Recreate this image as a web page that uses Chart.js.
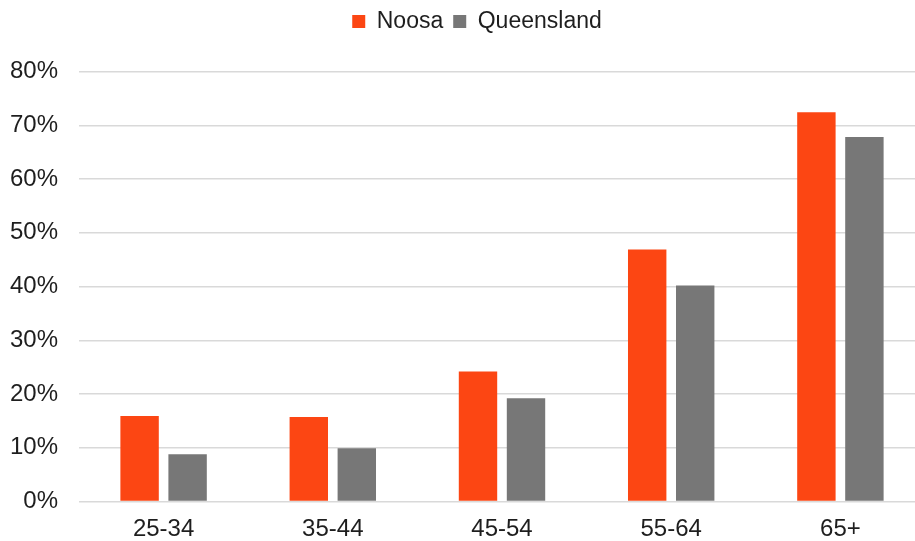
<!DOCTYPE html>
<html>
<head>
<meta charset="utf-8">
<script src="https://cdn.jsdelivr.net/npm/chart.js@4"></script>
<style>
html, body { margin: 0; padding: 0; background: #ffffff; overflow: hidden; width: 915px; height: 541px; }
#wrap { width: 954px; height: 541px; position: relative; }
</style>
</head>
<body>
<div id="wrap"><canvas id="c" width="954" height="541"></canvas></div>
<script>
const categories = ['25-34', '35-44', '45-54', '55-64', '65+'];
const seriesNames = ['Noosa', 'Queensland'];
const noosaValues = [15.9, 15.7, 24.2, 46.9, 72.4];
const queenslandValues = [8.8, 9.9, 19.2, 40.2, 67.8];
const yTickMax = 80;
const yTickStep = 10;

const FONT = '"Liberation Sans", Arial, sans-serif';
const TEXT = '#1e1e1e';

const legendHeight = {
  id: 'legendHeight',
  beforeInit(chart) {
    const orig = chart.legend.fit;
    chart.legend.fit = function () {
      orig.call(this);
      this.height = 71.5;
    };
  }
};

new Chart(document.getElementById('c'), {
  type: 'bar',
  data: {
    labels: categories,
    datasets: [
      { label: seriesNames[0], data: noosaValues, backgroundColor: '#FC4613', borderWidth: 0 },
      { label: seriesNames[1], data: queenslandValues, backgroundColor: '#777777', borderWidth: 0 }
    ]
  },
  options: {
    responsive: false,
    animation: false,
    devicePixelRatio: 1,
    layout: { padding: 0 },
    datasets: { bar: { categoryPercentage: 0.5675, barPercentage: 0.8 } },
    plugins: {
      tooltip: { enabled: false },
      legend: {
        position: 'top',
        align: 'center',
        labels: {
          boxWidth: 13,
          boxHeight: 13,
          padding: 10,
          color: TEXT,
          font: { family: FONT, size: 23 }
        }
      }
    },
    scales: {
      x: {
        grid: { display: false, drawTicks: false },
        border: { display: false },
        ticks: { color: TEXT, font: { family: FONT, size: 24 }, padding: 13, maxRotation: 0 },
        afterFit: s => { s.height = 39.5; }
      },
      y: {
        min: 0,
        max: yTickMax,
        ticks: {
          stepSize: yTickStep,
          color: TEXT,
          font: { family: FONT, size: 24 },
          padding: 21,
          callback: v => v + '%'
        },
        grid: { color: '#d9d9d9', lineWidth: 1.5, drawTicks: false },
        border: { display: false },
        afterFit: s => { s.width = 79; }
      },
      yR: {
        position: 'right',
        display: true,
        grid: { display: false, drawTicks: false },
        border: { display: false },
        ticks: { display: false },
        afterFit: s => { s.width = 29; }
      }
    }
  },
  plugins: [legendHeight]
});
</script>
</body>
</html>
